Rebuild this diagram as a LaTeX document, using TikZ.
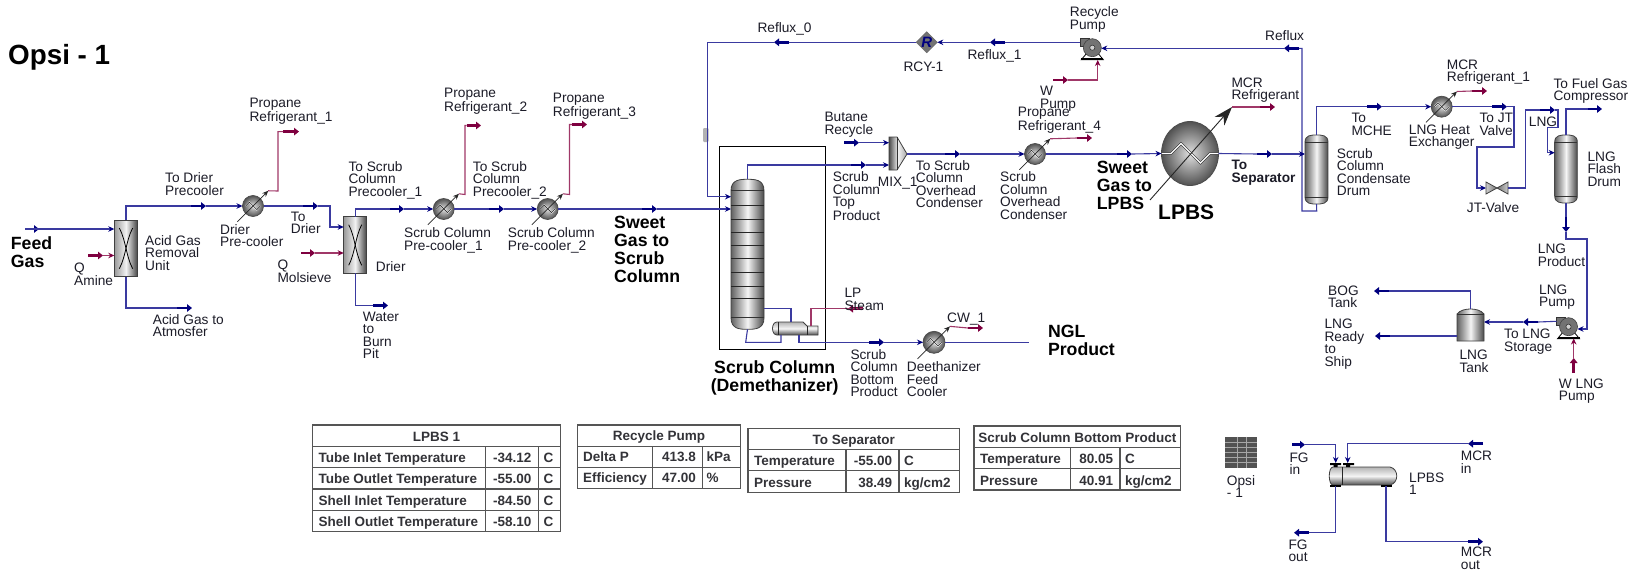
\documentclass[tikz,border=0pt]{standalone}
\usepackage{fontspec}
\setmainfont{Liberation Sans}
\usetikzlibrary{arrows.meta,shapes.geometric,calc}
\definecolor{stn}{HTML}{00007F}
\definecolor{stl}{HTML}{3A3AA0}
\definecolor{mgn}{HTML}{7F0040}
\definecolor{mgl}{HTML}{A03868}
\definecolor{txt}{HTML}{1C1C28}
\definecolor{tbt}{HTML}{333338}
\definecolor{tbl}{HTML}{555555}
\newcounter{lb}
\tikzset{
 st/.style={draw=stl,line width=1.1pt},
 sti/.style={st,-{Stealth[length=6pt,width=5.5pt,color=stn]}},
 mt/.style={draw=mgl,line width=1.1pt},
 mti/.style={mt,-{Stealth[length=6pt,width=5.5pt,color=mgn]}},
 mkb/.style={draw=stn,line width=2.8pt,-{Triangle[length=5pt,width=7.5pt]}},
 mkm/.style={draw=mgn,line width=2.8pt,-{Triangle[length=5pt,width=7.5pt]}},
 lbl/.style={anchor=north west,align=left,inner sep=0pt,text=txt,font=\fontsize{13.7}{12.5}\selectfont},
 blb/.style={anchor=north west,align=left,inner sep=0pt,text=black,font=\fontsize{17.7}{18}\selectfont\bfseries},
 tf/.style={inner sep=0pt,text=tbt,font=\fontsize{13.5}{14}\selectfont\bfseries},
 tb/.style={draw=tbl,line width=1.3pt},
 vgr/.style={left color=black!62,right color=black!72,middle color=white!92!gray},
 hgr/.style={top color=black!30,bottom color=black!70,middle color=white!92!gray},
 eq/.style={draw=black!75,line width=.8pt},
 balls/.style={inner color=white!88!black,outer color=black!68},
}
\newcommand{\lbl}[3]{\stepcounter{lb}\node[lbl] (t\thelb) at (#1,#2) {#3};}
\newcommand{\blbl}[3]{\stepcounter{lb}\node[blb] (t\thelb) at (#1,#2) {#3};}
\newcommand{\mk}[6]{\coordinate (#1a) at (#2,#3);\coordinate (#1b) at (#4,#5);\draw[#6] (#1a)--(#1b);}
% heat exchanger ball
\newcommand{\hx}[4]{%
 \node[circle,minimum size=#4*2 pt,inner sep=0pt,outer sep=0pt,balls,draw=black!70,line width=.7pt] (#1) at (#2,#3) {};
 \coordinate (#1f) at ($(#1)+(-1.5*#4,1.5*#4)$);
 \coordinate (#1t) at ($(#1)+(1.45*#4,-1.45*#4)$);
 \draw[white,line width=1.4pt] ($(#1)+(-.7*#4,0)$)--++(.36*#4,-.36*#4)--++(.7*#4,.7*#4)--++(.34*#4,-.34*#4);
 \draw[black!85,line width=.6pt] ($(#1)+(-.7*#4,0)$)--++(.36*#4,-.36*#4)--++(.7*#4,.7*#4)--++(.34*#4,-.34*#4);
 \draw[black!85,line width=.7pt,-{Stealth[length=6pt,width=5pt]}] (#1f)--(#1t);
}
% vertical vessel with caps
\newcommand{\vess}[6]{%
 \pgfmathsetmacro\vm{(#2+#4)/2}\pgfmathsetmacro\vt{#3+#6}\pgfmathsetmacro\vb{#5-#6}
 \pgfmathsetmacro\vw{(#4-#2)*.22}\pgfmathsetmacro\vcy{(#3+#5)/2}\pgfmathsetmacro\vW{#4-#2}\pgfmathsetmacro\vH{#5-#3}
 \path[eq,vgr] (#2,\vt) .. controls (#2,#3) and (\vm-\vw,#3) .. (\vm,#3) .. controls (\vm+\vw,#3) and (#4,#3) .. (#4,\vt)
  -- (#4,\vb) .. controls (#4,#5) and (\vm+\vw,#5) .. (\vm,#5) .. controls (\vm-\vw,#5) and (#2,#5) .. (#2,\vb) -- cycle;
 \draw[black!80,line width=.8pt] (#2,\vt)--(#4,\vt) (#2,\vb)--(#4,\vb);
 \node[inner sep=0pt,outer sep=0pt,rectangle,minimum width=\vW pt,minimum height=\vH pt] (#1) at (\vm,\vcy) {};
}
% separator box with X
\newcommand{\xbox}[5]{%
 \pgfmathsetmacro\vW{#4-#2}\pgfmathsetmacro\vH{#5-#3}
 \node[rectangle,inner sep=0pt,outer sep=0pt,minimum width=\vW pt,minimum height=\vH pt,draw=black!75,line width=1pt,left color=black!40,right color=black!75,middle color=white!90!gray] (#1) at ({(#2+#4)/2},{(#3+#5)/2}) {};
 \draw[black,line width=.8pt] ($(#1.north west)+(5,8)$) .. controls ($(#1.center)+(0,-8)$) and ($(#1.center)+(0,8)$) .. ($(#1.south east)+(-5,-8)$);
 \draw[black,line width=.8pt] ($(#1.north east)+(-5,8)$) .. controls ($(#1.center)+(0,-8)$) and ($(#1.center)+(0,8)$) .. ($(#1.south west)+(5,-8)$);
}
% pump
\newcommand{\pumpi}[3]{%
 \coordinate (#1o) at ($(#2,#3)+(-12,-5.4)$);
 \fill[black!55] ($(#2,#3)+(-12,-9)$) rectangle ($(#2,#3)+(-3,-1.5)$);
 \draw[black!80,line width=.6pt] ($(#2,#3)+(-12,-9)$) rectangle ($(#2,#3)+(-3,-1.5)$);
 \draw[black,fill=white,line width=.8pt] ($(#2,#3)+(-6,6)$)--($(#2,#3)+(6,6)$)--($(#2,#3)+(11,12)$)--($(#2,#3)+(-11,12)$)--cycle;
 \fill[black] ($(#2,#3)+(-11,10.5)$) rectangle ($(#2,#3)+(11,12.5)$);
 \node[circle,minimum size=18pt,inner sep=0pt,outer sep=0pt,fill=black!55,draw=black!75,line width=.6pt] (#1) at (#2,#3) {};
 \fill[black!18,draw=black!85,line width=.5pt] (#2,#3) circle (2.6pt);
}
\newcommand{\trow}[7]{%
 \stepcounter{lb}\node[tf,anchor=base west] (t\thelb) at (#1,#7+5) {#2};
 \stepcounter{lb}\node[tf,anchor=base east] (t\thelb) at (#3,#7+5) {#4};
 \stepcounter{lb}\node[tf,anchor=base west] (t\thelb) at (#5,#7+5) {#6};
}
\begin{document}
\begin{tikzpicture}[x=1pt,y=-1pt]
\useasboundingbox (0,0) rectangle (1638,570);
\fill[white] (0,0) rectangle (1638,570);

%---------- title
\stepcounter{lb}\node[anchor=north west,inner sep=0pt,font=\fontsize{27.8}{28}\selectfont\bfseries,text=black] (t\thelb) at (8,44) {Opsi - 1};

%---------- equipment
\xbox{agru}{114.3}{220}{137.7}{276.7}
\xbox{drier}{343.7}{216.7}{366.7}{273.3}
\hx{hxa}{253}{206}{10.5}
\hx{hxb}{443.7}{209}{10.5}
\hx{hxc}{547.7}{209}{10.5}
\hx{hxd}{1035}{154}{10.5}
\hx{hxe}{934}{342.3}{11}
\hx{hxf}{1441.7}{106.7}{10.5}

% column
\vess{col}{731}{179.3}{764}{329.3}{11.5}
\foreach \yy in {205,219,232,245,258,272,286,298} \draw[black!85,line width=.9pt] (731,\yy)--(764,\yy);
\draw[black,line width=.9pt] (719,146.7) rectangle (825,349.3);
\node[rectangle,inner sep=0pt,outer sep=0pt,minimum width=106pt,minimum height=202.6pt] (colbox) at (772,248) {};

% reboiler
\path[eq,hgr] (777,322)--(803,322)--(807,326)--(818,326)--(818,335)--(777,335) .. controls (771,335) and (771,322) .. (777,322) -- cycle;
\draw[black!85,line width=.7pt] (778,322)--(778,335) (807,326)--(807,335);
\node[rectangle,inner sep=0pt,outer sep=0pt,minimum width=45pt,minimum height=13pt] (reb) at (795.5,328.5) {};

% mixer
\path[eq,left color=black!70,right color=black!35,middle color=white!90!gray] (889,137)--(897,137)--(907,154)--(897,170)--(889,170)--cycle;
\draw[black!80,line width=.6pt] (897,137)--(897,170);
\node[rectangle,inner sep=0pt,outer sep=0pt,minimum width=18pt,minimum height=33pt] (mix) at (898,153.5) {};

% LPBS sphere
\node[ellipse,minimum width=57pt,minimum height=64pt,inner sep=0pt,outer sep=0pt,balls,draw=black!70,line width=.8pt] (lpbs) at (1190,153.5) {};
\draw[black!85,line width=.5pt,double=white,double distance=1.2pt] (lpbs.west)--++(9.5,0)--++(10,-10)--++(19.5,19.5)--++(9.5,-9.5)--(lpbs.east);
\coordinate (lpbsf) at (1150,200);
\coordinate (lpbst) at (1232,107);
\draw[black!85,line width=.9pt,-{Stealth[length=19pt,width=13pt]}] (lpbsf)--(lpbst);

\vess{cdr}{1305}{135}{1328}{204}{7}
\vess{fdr}{1554.7}{135}{1577.3}{203}{7}

% valve
\path[eq,left color=black!20,right color=black!55] (1486,182)--(1497,188)--(1486,194)--cycle;
\path[eq,left color=black!55,right color=black!20] (1508,182)--(1497,188)--(1508,194)--cycle;
\node[rectangle,inner sep=0pt,outer sep=0pt,minimum width=22pt,minimum height=12pt] (valve) at (1497,188) {};

% recycle block
\node[diamond,minimum width=21pt,minimum height=21pt,inner sep=0pt,outer sep=0pt,fill=black!55,draw=black!60,text=stn,font=\fontsize{15}{15}\selectfont\bfseries\itshape] (rcy) at (926.7,42.3) {R};

% pumps
\pumpi{rp}{1092.3}{47.7}
\pumpi{lp}{1568.5}{326.7}

% tank
\path[eq,vgr] (1457,341)--(1457,314) .. controls (1460,310) and (1466,309) .. (1470.5,309) .. controls (1475,309) and (1481,310) .. (1484,314)--(1484,341)--cycle;
\draw[black!80,line width=.7pt] (1457,314)--(1484,314);
\node[rectangle,inner sep=0pt,outer sep=0pt,minimum width=27pt,minimum height=32pt] (tank) at (1470.5,325) {};

% small tag on reflux line
\fill[black!30,rounded corners=1pt] (703,128) rectangle (708.5,142);

%---------- streams: left train
\mk{ma}{25}{229}{39}{229}{mkb}
\draw[sti] (maa)--(agru.west |- maa);
\mk{mb}{88}{255.5}{103}{255.5}{mkm}
\draw[mti] (mbb)--(agru.west |- mbb);
\mk{mc}{191}{206}{206}{206}{mkb}
\draw[st] (agru.north) |- (mca);
\draw[sti] (mcb)--(hxa.west);
\mk{md}{283}{131.6}{299}{131.6}{mkm}
\draw[mt] (hxat) -- (278,191) |- (mda);
\mk{me}{303}{206}{318}{206}{mkb}
\draw[st] (hxa.east)--(mea);
\coordinate (drin) at (drier.west |- 0,227);
\draw[sti] (meb)--(330,206)--(330,227)--(drin);
\mk{mf}{301}{253}{315}{253}{mkm}
\draw[mti] (mfb)--(drier.west |- mfb);
\mk{mg}{177}{308}{192}{308}{mkb}
\draw[st] (agru.south) |- (mga);
\mk{mh}{373}{305.5}{388}{305.5}{mkb}
\draw[st] (drier.south) |- (mha);
\mk{mi}{390}{209}{404}{209}{mkb}
\draw[st] (drier.north) |- (mia);
\draw[sti] (mib)--(hxb.west);
\mk{mj}{489}{209}{504}{209}{mkb}
\draw[st] (hxb.east)--(mja);
\draw[sti] (mjb)--(hxc.west);
\mk{mk}{466.5}{125.5}{481}{125.5}{mkm}
\draw[mt] (hxbt)--(465,194.5) |- (mka);
\mk{ml}{572}{124.5}{587}{124.5}{mkm}
\draw[mt] (hxct)--(569.5,194.5) |- (mla);
\mk{mm}{642}{209}{657}{209}{mkb}
\draw[st] (hxc.east)--(mma);
\draw[sti] (mmb)--(col.west |- mmb);

%---------- reflux loop
\mk{mn}{1299}{48.3}{1284}{48.3}{mkb}
\draw[st] (cdr.south) -- (1316.7,211) -- (1302,211) |- (mna);
\draw[sti] (mnb)--(rp.east |- mnb);
\mk{mo}{1005}{42.3}{990}{42.3}{mkb}
\draw[st] (rpo)--(moa);
\draw[sti] (mob)--(rcy.east);
\mk{mp}{789}{42.3}{774}{42.3}{mkb}
\draw[st] (rcy.west)--(mpa);
\draw[sti] (mpb)--(707.7,42.3)--(707.7,196.7)--(col.west |- 0,196.7);
\mk{mq}{1053}{80}{1068}{80}{mkm}
\draw[mti] (mqb)--(1097.7,80)--(1097.7,60);

%---------- overhead
\mk{mr}{844}{142.7}{859}{142.7}{mkb}
\draw[sti] (mrb)--(mix.west |- mrb);
\mk{ms}{851}{165}{866}{165}{mkb}
\draw[st] (col.north) |- (msa);
\draw[sti] (msb)--(mix.west |- msb);
\mk{mt}{945}{154}{960}{154}{mkb}
\draw[st] (907,154)--(mta);
\draw[sti] (mtb)--(hxd.west);
\mk{mu}{1077}{138}{1092}{138}{mkm}
\draw[mt] (hxdt)--(mua);
\mk{mv}{1117}{154}{1132}{154}{mkb}
\draw[st] (hxd.east)--(mva);
\draw[sti] (mvb)--(lpbs.west);
\mk{mw}{1260}{107}{1275}{107}{mkm}
\draw[mt] (lpbst)--(mwa);
\mk{mx}{1257}{154}{1272}{154}{mkb}
\draw[st] (lpbs.east)--(mxa);
\draw[sti] (mxb)--(cdr.west |- mxb);

%---------- drum to flash
\mk{my}{1367}{106.7}{1382}{106.7}{mkb}
\draw[st] (cdr.north) |- (mya);
\draw[sti] (myb)--(hxf.west);
\mk{mz}{1472}{91}{1487}{91}{mkm}
\draw[mt] (hxft)--(mza);
\mk{na}{1492}{106.7}{1507}{106.7}{mkb}
\draw[st] (hxf.east)--(naa);
\draw[sti] (nab)--(1514,106.7)--(1514,147)--(1477,147)--(1477,188)--(valve.west);
\mk{nb}{1540}{110}{1555}{110}{mkb}
\draw[st] (valve.east)--(1525.7,188)--(1525.7,110)--(nba);
\draw[sti] (nbb)--(1558,110)--(1558,127.3)--(1547.7,127.3)--(1547.7,152.7)--(fdr.west |- 0,152.7);
\mk{nc}{1587.7}{109}{1602}{109}{mkb}
\draw[st] (fdr.north) |- (nca);
\mk{nd}{1566}{217}{1566}{232}{mkb}
\draw[st] (fdr.south)--(nda);
\draw[sti] (ndb)--(1566,239)--(1587,239)--(1587,329)--(lp.east |- 0,329);
\mk{ne}{1538}{322}{1523}{322}{mkb}
\draw[st] (lpo)--(nea);
\draw[sti] (neb)--(tank.east |- neb);
\mk{nf}{1573.7}{373}{1573.7}{358}{mkm}
\draw[mti] (nfb)--(1573.7,338.5);
\mk{ng}{1389}{291}{1374}{291}{mkb}
\draw[st] (tank.north) |- (nga);
\mk{nh}{1390}{336}{1375}{336}{mkb}
\draw[st] (tank.west |- nha)--(nha);

%---------- bottom
\draw[st] (col.south) -- (745.7,342.3) -| (781,335);
\draw[st] (764,308.7) -| (791,322);
\mk{ni}{869}{342.3}{884}{342.3}{mkb}
\draw[st] (799,335) |- (nia);
\draw[sti] (nib)--(hxe.west);
\mk{nj}{968}{328}{983}{328}{mkm}
\draw[mt] (hxet)--(nja);
\coordinate (ngl) at (1029,342.3);
\draw[st] (hxe.east)--(ngl);
\mk{nk}{863}{308.7}{848}{308.7}{mkm}
\draw[mt] (811,326) |- (nka);

%---------- labels
\blbl{10.7}{236}{Feed\\Gas}
\lbl{249.3}{98.3}{Propane\\Refrigerant\_1}
\lbl{165}{172.7}{To Drier\\Precooler}
\lbl{220}{224.3}{Drier\\Pre-cooler}
\lbl{290.7}{211.7}{To\\Drier}
\lbl{145}{235}{Acid Gas\\Removal\\Unit}
\lbl{74}{262.7}{Q\\Amine}
\lbl{152.7}{314.3}{Acid Gas to\\Atmosfer}
\lbl{277.3}{259.3}{Q\\Molsieve}
\lbl{375.7}{261}{Drier}
\lbl{362.7}{311.7}{Water\\to\\Burn\\Pit}
\lbl{348.3}{161.3}{To Scrub\\Column\\Precooler\_1}
\lbl{444}{88.3}{Propane\\Refrigerant\_2}
\lbl{552.7}{92.7}{Propane\\Refrigerant\_3}
\lbl{472.7}{161.3}{To Scrub\\Column\\Precooler\_2}
\lbl{404}{227.7}{Scrub Column\\Pre-cooler\_1}
\lbl{507.7}{227.7}{Scrub Column\\Pre-cooler\_2}
\blbl{614}{216}{Sweet\\Gas to\\Scrub\\Column}
\stepcounter{lb}\node[blb,anchor=north,align=center] (t\thelb) at (774.7,360.7) {Scrub Column\\(Demethanizer)};
\lbl{757.3}{22}{Reflux\_0}
\lbl{967.3}{49}{Reflux\_1}
\lbl{903.3}{61.7}{RCY-1}
\lbl{1069.7}{6.7}{Recycle\\Pump}
\lbl{1040}{86}{W\\Pump}
\lbl{1017.7}{107.3}{Propane\\Refrigerant\_4}
\lbl{824.3}{112.3}{Butane\\Recycle}
\lbl{832.7}{171.7}{Scrub\\Column\\Top\\Product}
\lbl{877.7}{176.7}{MIX\_1}
\lbl{915.7}{160.3}{To Scrub\\Column\\Overhead\\Condenser}
\lbl{1000}{171.7}{Scrub\\Column\\Overhead\\Condenser}
\blbl{1096.7}{161}{Sweet\\Gas to\\LPBS}
\stepcounter{lb}\node[anchor=north west,inner sep=0pt,font=\fontsize{21}{22}\selectfont\bfseries,text=black] (t\thelb) at (1158,205) {LPBS};
\lbl{1265}{30}{Reflux}
\lbl{1231.3}{77.3}{MCR\\Refrigerant}
\stepcounter{lb}\node[lbl,font=\fontsize{13.7}{12.5}\selectfont\bfseries] (t\thelb) at (1231.3,160) {To\\Separator};
\lbl{1336.7}{148.3}{Scrub\\Column\\Condensate\\Drum}
\lbl{1446.7}{59.3}{MCR\\Refrigerant\_1}
\lbl{1351.3}{113.3}{To\\MCHE}
\lbl{1408.7}{124.7}{LNG Heat\\Exchanger}
\lbl{1479.3}{113.3}{To JT\\Valve}
\lbl{1466.7}{202.3}{JT-Valve}
\lbl{1553.3}{78.3}{To Fuel Gas\\Compressor}
\lbl{1528.7}{116.7}{LNG}
\lbl{1587.3}{151.7}{LNG\\Flash\\Drum}
\lbl{1537.7}{244}{LNG\\Product}
\lbl{1539}{284.3}{LNG\\Pump}
\lbl{1328}{285.3}{BOG\\Tank}
\lbl{1324.3}{319}{LNG\\Ready\\to\\Ship}
\lbl{1459.3}{350}{LNG\\Tank}
\lbl{1504}{329}{To LNG\\Storage}
\lbl{1558.7}{378.3}{W LNG\\Pump}
\lbl{844.3}{288.3}{LP\\Steam}
\lbl{947}{312.3}{CW\_1}
\lbl{850.3}{349}{Scrub\\Column\\Bottom\\Product}
\lbl{906.7}{361.7}{Deethanizer\\Feed\\Cooler}
\blbl{1047.8}{325}{NGL\\Product}

%---------- tables
\draw[tb] (312.3,425) rectangle (560.7,531.3);
\draw[tb] (312.3,446.3)--(560.7,446.3) (312.3,467.3)--(560.7,467.3) (312.3,489)--(560.7,489) (312.3,510.3)--(560.7,510.3) (485.3,446.3)--(485.3,531.3) (538.7,446.3)--(538.7,531.3);
\stepcounter{lb}\node[tf,anchor=base] (t\thelb) at (436.5,441) {LPBS 1};
\trow{318.3}{Tube Inlet Temperature}{531.7}{-34.12}{543.3}{C}{457.3}
\trow{318.3}{Tube Outlet Temperature}{531.7}{-55.00}{543.3}{C}{478.6}
\trow{318.3}{Shell Inlet Temperature}{531.7}{-84.50}{543.3}{C}{500}
\trow{318.3}{Shell Outlet Temperature}{531.7}{-58.10}{543.3}{C}{521.2}

\draw[tb] (577.3,425) rectangle (740.7,488.7);
\draw[tb] (577.3,446.3)--(740.7,446.3) (577.3,467.3)--(740.7,467.3) (652.7,446.3)--(652.7,488.7) (702.7,446.3)--(702.7,488.7);
\stepcounter{lb}\node[tf,anchor=base] (t\thelb) at (659,440) {Recycle Pump};
\trow{583}{Delta P}{696}{413.8}{706.3}{kPa}{456}
\trow{583}{Efficiency}{696}{47.00}{706.3}{\%}{477.5}

\draw[tb] (748,428.3) rectangle (959.3,492.3);
\draw[tb] (748,449.3)--(959.3,449.3) (748,470.7)--(959.3,470.7) (846,449.3)--(846,492.3) (899,449.3)--(899,492.3);
\stepcounter{lb}\node[tf,anchor=base] (t\thelb) at (853.7,444) {To Separator};
\trow{754}{Temperature}{892.3}{-55.00}{904}{C}{460.5}
\trow{754}{Pressure}{892.3}{38.49}{904}{kg/cm2}{482}

\draw[tb] (974,426) rectangle (1180.7,490);
\draw[tb] (974,447.3)--(1180.7,447.3) (974,468.7)--(1180.7,468.7) (1070.7,447.3)--(1070.7,490) (1120,447.3)--(1120,490);
\stepcounter{lb}\node[tf,anchor=base] (t\thelb) at (1077.3,442) {Scrub Column Bottom Product};
\trow{980}{Temperature}{1113.3}{80.05}{1125}{C}{458.5}
\trow{980}{Pressure}{1113.3}{40.91}{1125}{kg/cm2}{480}

%---------- spreadsheet icon
\node[rectangle,inner sep=0pt,outer sep=0pt,minimum width=32pt,minimum height=31pt,fill=black!68] (sheet) at (1241,452.2) {};
\foreach \yy in {442,447,452,457,462} \draw[black!35,line width=.8pt] (1225,\yy)--(1257,\yy);
\foreach \xx in {1237,1246} \draw[black!35,line width=.8pt] (\xx,436.7)--(\xx,467.7);
\lbl{1226.7}{475.3}{Opsi\\- 1}

%---------- LPBS 1 exchanger
\path[eq,hgr] (1333,467)--(1390,467) .. controls (1399,469) and (1399,483) .. (1390,485)--(1333,485) .. controls (1328,485) and (1328,467) .. (1333,467)--cycle;
\draw[black!85,line width=.7pt] (1342,467)--(1342,485);
\node[rectangle,inner sep=0pt,outer sep=0pt,minimum width=68pt,minimum height=18pt] (ex) at (1363,476) {};
\fill[black] (1330,463) rectangle (1341,465) (1333.5,465) rectangle (1337.5,467);
\fill[black] (1343,463) rectangle (1354,465) (1346,465) rectangle (1350,467);
\fill[black] (1330,485) rectangle (1341,487);
\fill[black] (1381,485) rectangle (1392,487);
\mk{oa}{1292}{444.7}{1305}{444.7}{mkb}
\draw[sti] (oab)--(1335.7,444.7)--(1335.7,463);
\mk{ob}{1483}{443.7}{1468}{443.7}{mkb}
\draw[sti] (obb)--(1347.7,443.7)--(1347.7,463);
\mk{oc}{1309}{532.7}{1294}{532.7}{mkb}
\draw[st] (1335.7,486) |- (oca);
\mk{od}{1468}{541.7}{1483}{541.7}{mkb}
\draw[st] (1386,486) |- (oda);
\lbl{1289.3}{452.7}{FG\\in}
\lbl{1460.7}{451}{MCR\\in}
\lbl{1288.3}{539.3}{FG\\out}
\lbl{1460.7}{546.8}{MCR\\out}
\lbl{1409}{472.7}{LPBS\\1}
\end{tikzpicture}
\end{document}
